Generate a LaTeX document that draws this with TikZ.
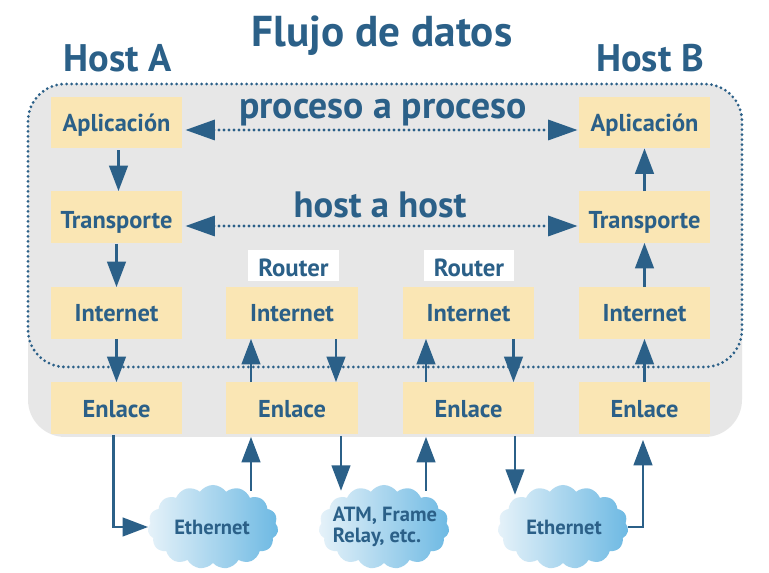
\documentclass[tikz,border=0pt]{standalone}
\usepackage{fontspec}
\setmainfont{PT Sans}
\usetikzlibrary{arrows.meta,calc,shapes.symbols}
\definecolor{ink}{HTML}{2B6088}
\definecolor{boxc}{HTML}{FAE6B4}
\definecolor{greyc}{HTML}{E7E7E7}
\definecolor{cloudl}{HTML}{E6F2F9}
\definecolor{cloudr}{HTML}{6DB9E3}
\tikzset{
  layerbox/.style={fill=boxc,minimum width=98.5pt,minimum height=38.5pt,inner sep=0pt,text=ink,text height=14pt,text depth=1.2pt,font=\bfseries\fontsize{18.3}{20}\selectfont},
  enlbox/.style={layerbox,text height=14.6pt,text depth=0.8pt},
  transbox/.style={layerbox,text height=17.5pt,text depth=0.2pt},
  routerbox/.style={fill=white,minimum width=68pt,minimum height=23pt,inner sep=0pt,text=ink,text height=17pt,text depth=0.2pt,font=\bfseries\fontsize{18.6}{20}\selectfont},
  arr/.style={draw=ink,line width=1.6pt,-{Triangle[length=19pt,width=14pt,fill=ink]}},
  dotline/.style={draw=ink,line width=2.3pt,line cap=round,dash pattern=on 0pt off 3.75pt},
  dotarr/.style={dotline,{Triangle[length=22pt,width=15pt,fill=ink]}-{Triangle[length=22pt,width=15pt,fill=ink]}},
  headtxt/.style={text=ink,font=\bfseries\fontsize{28.8}{30}\selectfont,inner sep=0pt},
  netcloud/.style={cloud,cloud puffs=15,cloud puff arc=110,aspect=1.55,left color=cloudl,right color=cloudr,draw=none,inner sep=0pt,minimum width=98pt,minimum height=63pt},
  cloudtxt/.style={text=ink,inner sep=0pt,align=left,font=\bfseries\fontsize{15.4}{15.5}\selectfont},
}
\begin{document}
\begin{tikzpicture}[x=0.75pt,y=-0.75pt]
\useasboundingbox (0,0) rectangle (769,573);
\fill[white] (0,0) rectangle (769,573);
\fill[greyc,rounded corners=28pt] (28,84) rectangle (742,437);
\draw[dotline,rounded corners=28pt] (28,84) rectangle (742,367);

\node[text=ink,font=\bfseries\fontsize{32.4}{34}\selectfont,inner sep=0pt] (title) at (382,36) {Flujo de datos};
\node[headtxt] (hostA) at (118,58) {Host A};
\node[headtxt] (hostB) at (650,58) {Host B};
\node[text=ink,font=\bfseries\fontsize{28.3}{30}\selectfont,inner sep=0pt] (pp) at (383,113) {proceso a proceso};
\node[text=ink,font=\bfseries\fontsize{27.5}{30}\selectfont,inner sep=0pt] (hh) at (380,205) {host a host};

\foreach \n/\cx in {A/116.5,B/292,C/468.5,D/644.5}{
  \node[layerbox] (int\n) at (\cx,313) {Internet};
  \node[enlbox] (enl\n) at (\cx,408) {Enlace};
}
\foreach \n/\cx in {A/116.5,D/644.5}{
  \node[layerbox] (app\n) at (\cx,122.5) {Aplicación};
  \node[transbox] (tra\n) at (\cx,217) {Transporte};
}
\node[routerbox] (rb) at (293.5,265.5) {Router};
\node[routerbox] (rc) at (469,265.5) {Router};

\node[netcloud] (cl1) at (213,527) {};
\node[netcloud] (cl2) at (384,527) {};
\node[netcloud] (cl3) at (563,527) {};
\node[cloudtxt] (t1) at (212,527) {Ethernet};
\node[cloudtxt] (t2) at (385,527) {ATM, Frame\\Relay, etc.};
\node[cloudtxt] (t3) at (564,527) {Ethernet};

% dotted peer arrows
\draw[dotarr] ($(appA.east)+(3,7.5)$) -- ($(appD.west)+(-1,7.5)$);
\draw[dotarr] ($(traA.east)+(3,9)$) -- ($(traD.west)+(-1,9)$);

% host A downward
\draw[arr] ($(appA.south)+(2,2)$) -- ($(traA.north)+(2,0)$);
\draw[arr] ($(traA.south)+(0,1)$) -- (intA.north);
\draw[arr] (intA.south) -- (enlA.north);
% host B upward
\draw[arr] (intD.north) -- (traD.south);
\draw[arr] (traD.north) -- (appD.south);
\draw[arr] (enlD.north) -- (intD.south);
% routers
\draw[arr] ($(enlB.north)+(-41,0)$) -- ($(intB.south)+(-41,0)$);
\draw[arr] ($(intB.south)+(44,0)$) -- ($(enlB.north)+(44,0)$);
\draw[arr] ($(enlC.north)+(-42.5,0)$) -- ($(intC.south)+(-42.5,0)$);
\draw[arr] ($(intC.south)+(45,0)$) -- ($(enlC.north)+(45,0)$);
% lower links
\draw[arr] ($(enlA.south)+(-3,1)$) |- (cl1.west);
\draw[arr] ($(cl1.north)+(38,6)$) -- ($(enlB.south)+(-41,3)$);
\draw[arr] ($(enlB.south)+(49,2)$) -- ($(cl2.north)+(-43,6)$);
\draw[arr] ($(cl2.north)+(42,6)$) -- ($(enlC.south)+(-42.5,3)$);
\draw[arr] ($(enlC.south)+(46.5,2)$) -- ($(cl3.north)+(-48,10)$);
\draw[arr] (cl3.east) -| ($(enlD.south)+(-1.5,6)$);
\end{tikzpicture}
\end{document}
